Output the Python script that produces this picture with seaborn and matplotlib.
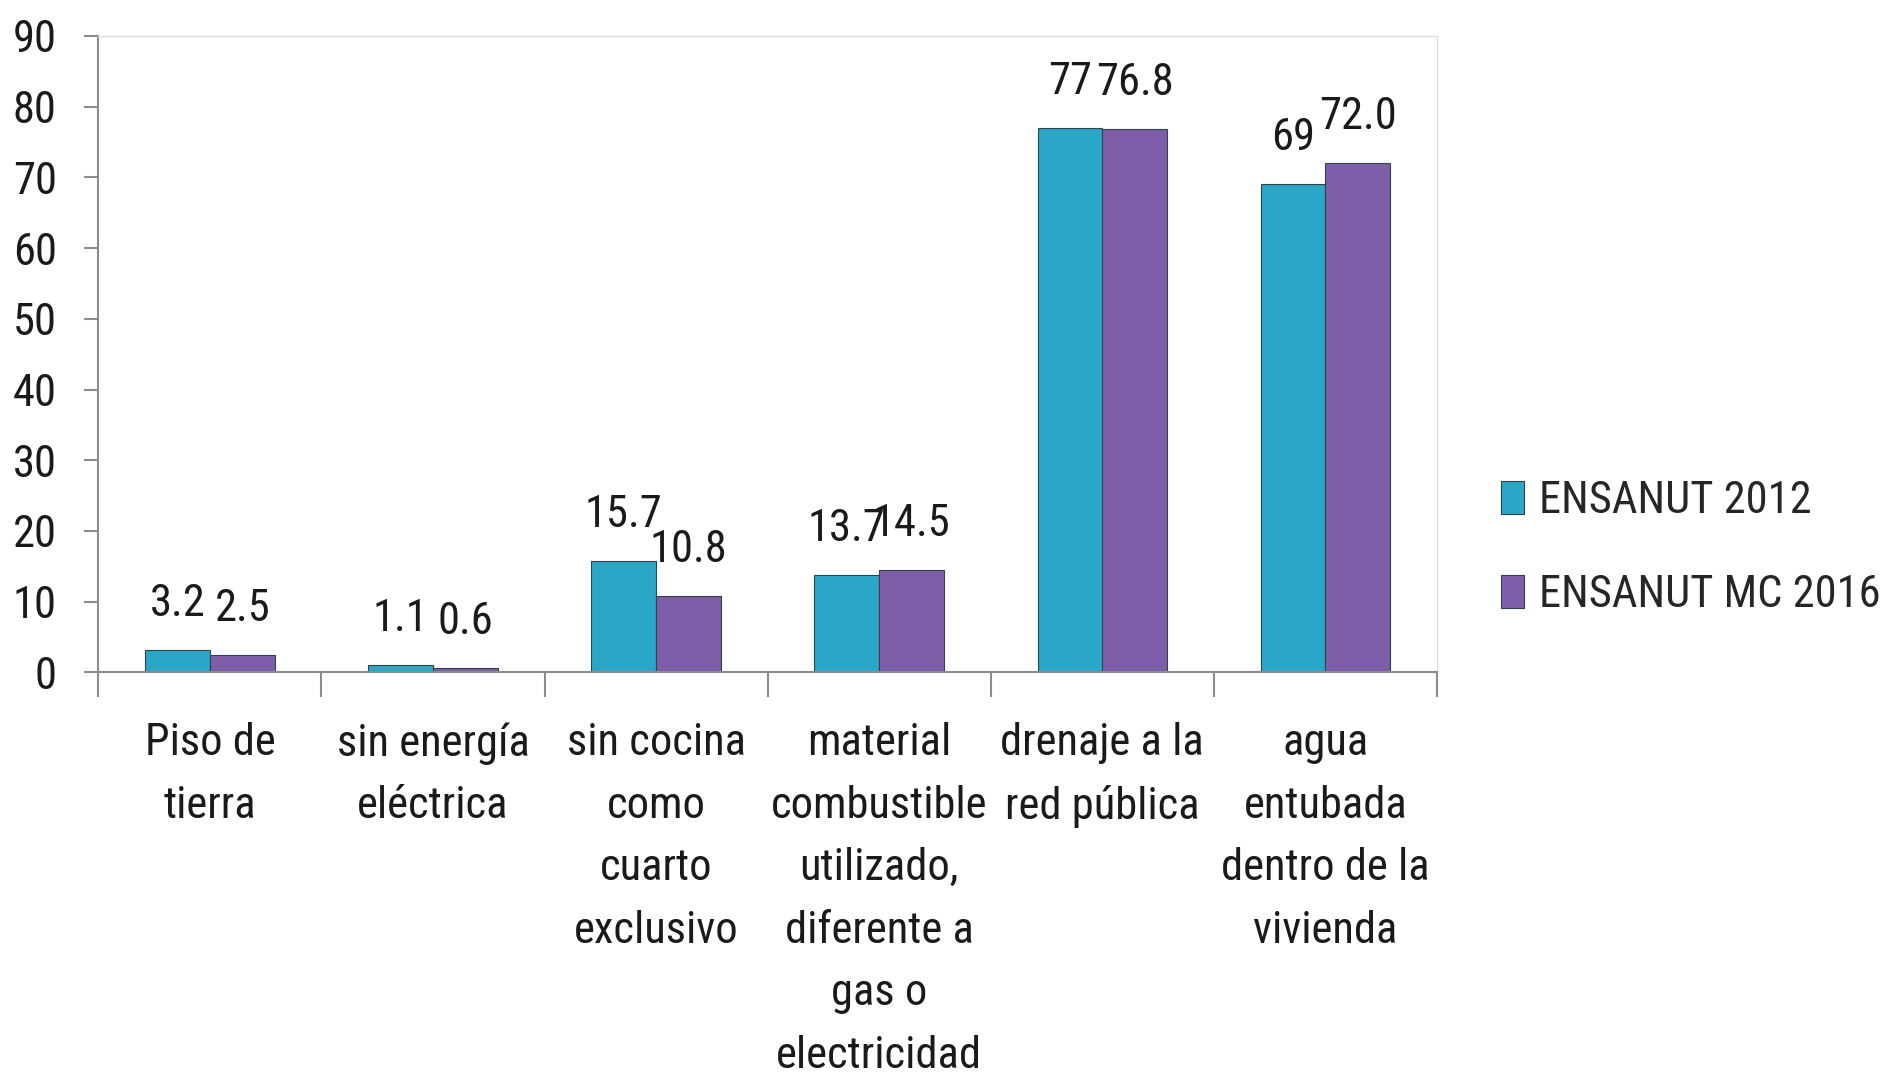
import matplotlib
matplotlib.use("Agg")
import matplotlib.pyplot as plt
from matplotlib import font_manager
import seaborn as sns
import pandas as pd
import numpy as np
from matplotlib.ticker import FixedLocator

categories = ["Piso de\ntierra", "sin energía\neléctrica", "sin cocina\ncomo\ncuarto\nexclusivo",
              "material\ncombustible\nutilizado,\ndiferente a\ngas o\nelectricidad",
              "drenaje a la\nred pública", "agua\nentubada\ndentro de la\nvivienda"]
series_names = ["ENSANUT 2012", "ENSANUT MC 2016"]
values_2012 = [3.2, 1.1, 15.7, 13.7, 77.0, 69.0]
values_2016 = [2.5, 0.6, 10.8, 14.5, 76.8, 72.0]
labels_2012 = ["3.2", "1.1", "15.7", "13.7", "77", "69"]
labels_2016 = ["2.5", "0.6", "10.8", "14.5", "76.8", "72.0"]
y_ticks = [0, 10, 20, 30, 40, 50, 60, 70, 80, 90]

sns.set_theme(style="white")

# pick a narrow font if one is installed
names = {f.name for f in font_manager.fontManager.ttflist}
family = ['DejaVu Sans']
for cand in ["Liberation Sans Narrow", "Roboto Condensed", "Open Sans Condensed", "Noto Sans Condensed"]:
    if cand in names:
        family = [cand, 'DejaVu Sans']
        break
plt.rcParams['font.family'] = family

df = pd.DataFrame({
    "cat": categories * 2,
    "serie": [series_names[0]] * 6 + [series_names[1]] * 6,
    "val": values_2012 + values_2016,
})

colors = ["#2AA6C6", "#7E5EA8"]
fig = plt.figure(figsize=(18.93, 10.88), dpi=100)
ax = fig.add_axes([0.052, 0.382, 0.707, 0.585])
sns.barplot(data=df, x="cat", y="val", hue="serie", palette=colors, width=0.58,
            gap=0, ax=ax, edgecolor="#33414a", linewidth=0.8, saturation=1, legend=True)

ax.set_ylim(0, 90)
ax.set_xlim(-0.5, 5.5)
ax.set_yticks(y_ticks)
ax.set_xlabel("")
ax.set_ylabel("")

lbls = [labels_2012, labels_2016]
for i, cont in enumerate(ax.containers):
    ax.bar_label(cont, labels=lbls[i], padding=18, fontsize=32, color="#1a1a1a")

for side in ["top", "right"]:
    ax.spines[side].set_color("#dcdcdc")
    ax.spines[side].set_linewidth(1.0)
for side in ["left", "bottom"]:
    ax.spines[side].set_color("#8c8c8c")
    ax.spines[side].set_linewidth(1.5)

ax.tick_params(axis="y", which="major", left=True, length=10, width=1.5, color="#8c8c8c",
               labelsize=32, pad=20, labelcolor="#1a1a1a")
ax.tick_params(axis="x", which="major", bottom=False, length=0, labelsize=32, pad=36,
               labelcolor="#1a1a1a")
ax.xaxis.set_minor_locator(FixedLocator(np.arange(-0.5, 6.0, 1.0)))
ax.tick_params(axis="x", which="minor", bottom=True, length=18, width=1.5, color="#8c8c8c")
for t in ax.get_xticklabels():
    t.set_linespacing(1.62)
    t.set_ha("center")
    t.set_va("top")

leg = ax.legend(loc="center left", bbox_to_anchor=(1.035, 0.195), frameon=False,
                fontsize=32, handlelength=0.5, handleheight=0.75, handletextpad=0.35,
                labelspacing=1.17, borderaxespad=0)
for h in leg.legend_handles:
    h.set_edgecolor("#33414a")

fig.savefig("out.png", dpi=100, facecolor="white")
